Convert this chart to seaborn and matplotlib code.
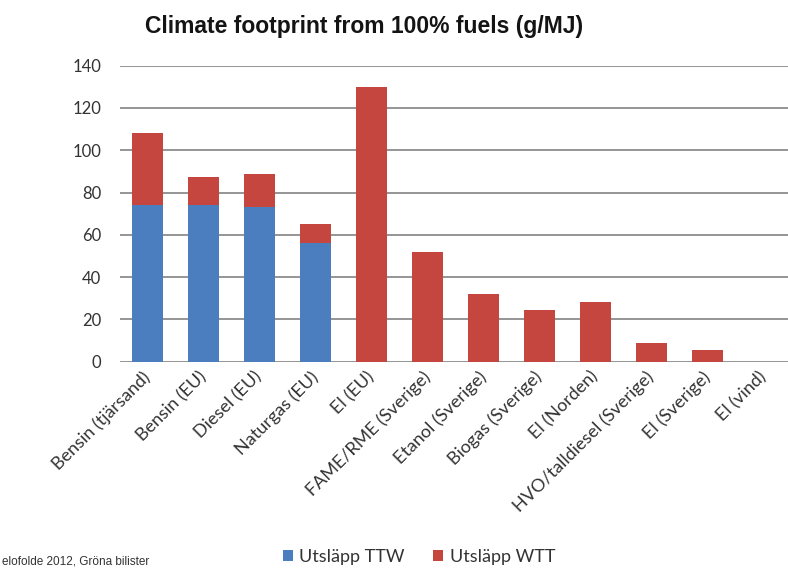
import matplotlib
matplotlib.use("Agg")
import matplotlib.pyplot as plt
from matplotlib.patches import Patch
import seaborn as sns
import pandas as pd

# Fuel categories and their emission components (g CO2e / MJ)
categories = [
    "Bensin (tjärsand)", "Bensin (EU)", "Diesel (EU)", "Naturgas (EU)",
    "El (EU)", "FAME/RME (Sverige)", "Etanol (Sverige)", "Biogas (Sverige)",
    "El (Norden)", "HVO/talldiesel (Sverige)", "El (Sverige)", "El (vind)",
]
ttw = [74, 74, 73, 56, 0, 0, 0, 0, 0, 0, 0, 0]
wtt = [34, 13.5, 16, 9, 130, 52, 32, 24.5, 28, 9, 5.5, 0]
series_names = ["Utsläpp TTW", "Utsläpp WTT"]
yticks = [0, 20, 40, 60, 80, 100, 120, 140]

title = "Climate footprint from 100% fuels (g/MJ)"
source = "elofolde 2012, Gröna bilister"

BLUE = "#4A7EBF"
RED = "#C4463F"

df = pd.DataFrame({"fuel": categories, "TTW": ttw, "WTT": wtt})
df["total"] = df["TTW"] + df["WTT"]

sns.set_theme(style="white")
plt.rcParams["font.family"] = ["Lato", "DejaVu Sans"]

W, H = 788, 570
fig = plt.figure(figsize=(W / 100, H / 100), dpi=100)
ax = fig.add_axes([119.5 / W, 1 - 361.7 / H, 672 / W, 296 / H])

# stacked bars: full height in WTT colour, TTW part drawn over it
sns.barplot(data=df, x="fuel", y="total", color=RED, saturation=1,
            width=0.55, linewidth=0, ax=ax, zorder=3)
sns.barplot(data=df, x="fuel", y="TTW", color=BLUE, saturation=1,
            width=0.55, linewidth=0, ax=ax, zorder=4)

ax.set_xlim(-0.5, len(categories) - 0.5)
ax.set_ylim(0, 140)
ax.set_yticks(yticks)
ax.set_xlabel("")
ax.set_ylabel("")
ax.grid(axis="y", color="#8c8c8c", linewidth=1.3)
ax.grid(axis="x", visible=False)
ax.set_axisbelow(True)
for s in ax.spines.values():
    s.set_visible(False)

ax.tick_params(axis="y", length=0, pad=13, labelsize=12, labelcolor="#333333")
ax.tick_params(axis="x", length=0, pad=9, labelsize=13, labelcolor="#333333")
for lbl in ax.get_xticklabels():
    lbl.set_rotation(45)
    lbl.set_ha("right")
    lbl.set_va("center")
    lbl.set_rotation_mode("anchor")

fig.text(364 / W, 1 - 27 / H, title, ha="center", va="center",
         fontsize=16.5, fontweight="bold", color="#141414",
         family=["Liberation Sans", "DejaVu Sans"])

handles = [Patch(facecolor=BLUE, edgecolor="none"),
           Patch(facecolor=RED, edgecolor="none")]
fig.legend(handles, series_names, loc="center", ncol=2,
           bbox_to_anchor=(419 / W, 1 - 557 / H), frameon=False,
           fontsize=13, handlelength=0.55, handleheight=0.6,
           handletextpad=0.35, columnspacing=1.6, labelcolor="#333333",
           borderpad=0, borderaxespad=0)

fig.text(2 / W, 1 - 562 / H, source, ha="left", va="center",
         fontsize=8.5, color="#333333",
         family=["Liberation Sans", "DejaVu Sans"])

fig.savefig("out.png", dpi=100)
